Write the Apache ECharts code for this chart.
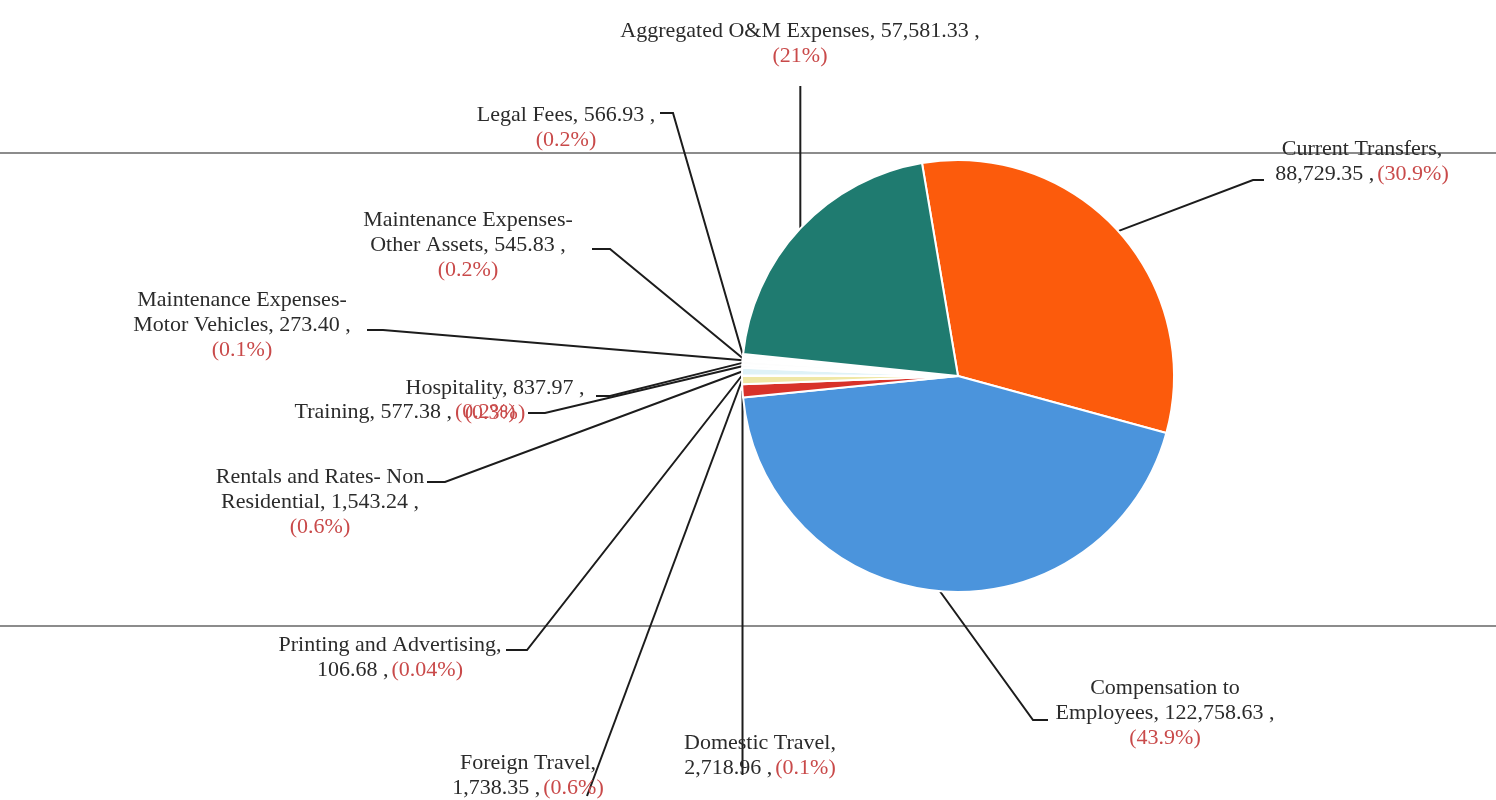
<!DOCTYPE html>
<html>
<head>
<meta charset="utf-8">
<title>Expenditure breakdown</title>
<script src="https://cdn.jsdelivr.net/npm/echarts@6/dist/echarts.min.js"></script>
<style>
  html, body { margin: 0; padding: 0; background: #fff; }
  #chart { width: 1496px; height: 800px; }
</style>
</head>
<body>
<div id="chart"></div>
<script>
// slice order is clockwise from the top of the pie
const categories = [
    'Current Transfers',
    'Compensation to Employees',
    'Domestic Travel',
    'Foreign Travel',
    'Printing and Advertising',
    'Rentals and Rates- Non Residential',
    'Training',
    'Hospitality',
    'Maintenance Expenses- Motor Vehicles',
    'Maintenance Expenses- Other Assets',
    'Legal Fees',
    'Aggregated O&M Expenses'
];
const amounts = [
    88729.35, 122758.63, 2718.96, 1738.35, 106.68, 1543.24,
    577.38, 837.97, 273.40, 545.83, 566.93, 57581.33
];
// shares as printed on the original
const shareLabels = [
    '30.9%', '43.9%', '0.1%', '0.6%', '0.04%', '0.6%',
    '0.2%', '0.3%', '0.1%', '0.2%', '0.2%', '21%'
];
const sliceColors = [
    '#fc5b0c', '#4b94dc', '#d8322a', '#efe7a6', '#b9c76c', '#dff2f7',
    '#fbfbfb', '#fdfdfd', '#fbfbfb', '#fdfdfd', '#fbfbfb', '#1f7b70'
];

// label placement: centre x, top y, where the name wraps, separators, leader line tail
// a null x in a line point means "same x as where the line leaves the pie"
const labelSpots = [
    { x: 1362, y: 137, wrap: null, sepA: ',\n', sepB: ' ', line: [[1253, 180], [1264, 180]] },
    { x: 1165, y: 676, wrap: 'to', sepA: ', ', sepB: '\n', line: [[1033, 720], [1048, 720]] },
    { x: 760, y: 731, wrap: null, sepA: ',\n', sepB: ' ', line: [[null, 600], [null, 775]] },
    { x: 528, y: 751, wrap: null, sepA: ',\n', sepB: ' ', line: [[587, 796]] },
    { x: 390, y: 633, wrap: null, sepA: ',\n', sepB: ' ', line: [[527, 650], [506, 650]] },
    { x: 320, y: 465, wrap: 'Non', sepA: ', ', sepB: '\n', line: [[445, 482], [427, 482]] },
    { x: 405, y: 400, wrap: null, sepA: ', ', sepB: ' ', line: [[545, 413], [528, 413]] },
    { x: 495, y: 376, wrap: null, sepA: ', ', sepB: '\n', line: [[610, 396], [596, 396]] },
    { x: 242, y: 288, wrap: 'Expenses-', sepA: ', ', sepB: '\n', line: [[383, 330], [367, 330]] },
    { x: 468, y: 208, wrap: 'Expenses-', sepA: ', ', sepB: '\n', line: [[610, 249], [592, 249]] },
    { x: 566, y: 103, wrap: null, sepA: ', ', sepB: '\n', line: [[673, 113], [660, 113]] },
    { x: 800, y: 19, wrap: null, sepA: ', ', sepB: '\n', line: [[null, 86]] }
];

const serif = '"Liberation Serif", "Times New Roman", serif';

function money(v) {
    return v.toLocaleString('en-US', { minimumFractionDigits: 2, maximumFractionDigits: 2 });
}

const myChart = echarts.init(document.getElementById('chart'), null, { renderer: 'canvas' });

const option = {
    backgroundColor: '#ffffff',
    animation: false,
    graphic: [
        { type: 'line', z: -10, shape: { x1: 0, y1: 153, x2: 1496, y2: 153 }, style: { stroke: '#8c8c8c', lineWidth: 2 } },
        { type: 'line', z: -10, shape: { x1: 0, y1: 626, x2: 1496, y2: 626 }, style: { stroke: '#8c8c8c', lineWidth: 2 } }
    ],
    series: [{
        type: 'pie',
        center: [958, 376],
        radius: 216,
        startAngle: 99.6,
        clockwise: true,
        avoidLabelOverlap: false,
        emphasis: { disabled: true },
        itemStyle: { borderColor: '#ffffff', borderWidth: 2 },
        data: categories.map((name, i) => ({
            name: name,
            value: amounts[i],
            itemStyle: { color: sliceColors[i] }
        })),
        label: {
            show: true,
            position: 'outside',
            fontFamily: serif,
            formatter: p => {
                const spot = labelSpots[p.dataIndex];
                let name = p.name;
                if (spot.wrap) {
                    name = name.replace(spot.wrap + ' ', spot.wrap + '\n');
                }
                return '{n|' + name + spot.sepA + money(p.value) + ' ,}' + spot.sepB +
                    '{p|(' + shareLabels[p.dataIndex] + ')}';
            },
            rich: {
                n: { fontFamily: serif, fontSize: 22, lineHeight: 25, color: '#2b2b2b' },
                p: { fontFamily: serif, fontSize: 22, lineHeight: 25, color: '#c94a4a' }
            }
        },
        labelLine: {
            show: true,
            smooth: false,
            length: 20,
            length2: 10,
            lineStyle: { color: '#1c1c1c', width: 2 }
        },
        labelLayout: params => {
            const spot = labelSpots[params.dataIndex];
            const out = { x: spot.x, y: spot.y, align: 'center', verticalAlign: 'top' };
            if (params.labelLinePoints && params.labelLinePoints.length) {
                const start = params.labelLinePoints[0];
                out.labelLinePoints = [start].concat(spot.line.map(pt => [pt[0] === null ? start[0] : pt[0], pt[1]]));
            }
            return out;
        }
    }]
};

myChart.setOption(option);
</script>
</body>
</html>
